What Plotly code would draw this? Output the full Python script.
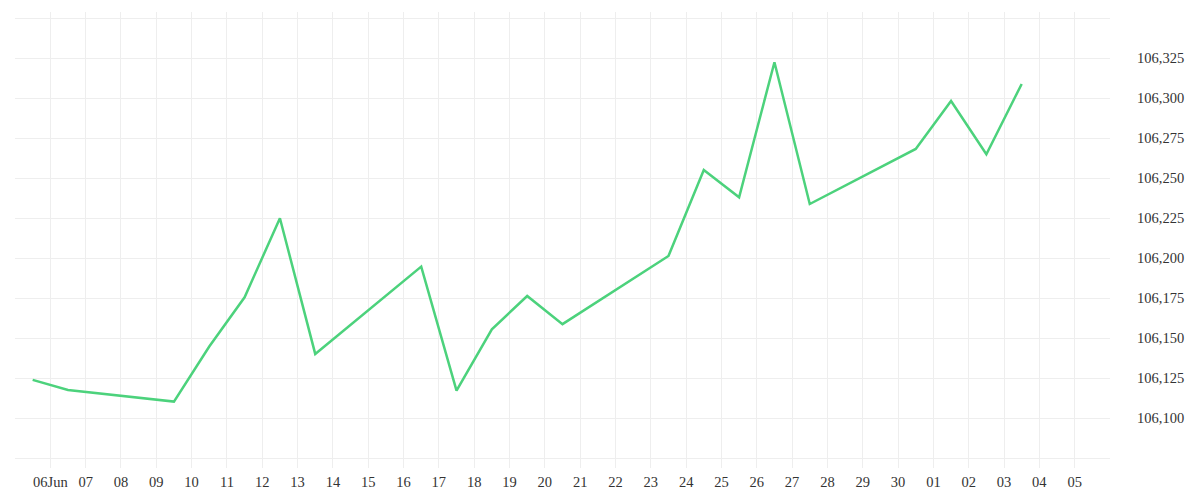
import pandas as pd
import plotly.graph_objects as go

# trading days (weekends missing) and closing values
dates = ["2025-06-05", "2025-06-06", "2025-06-09", "2025-06-10", "2025-06-11",
         "2025-06-12", "2025-06-13", "2025-06-16", "2025-06-17", "2025-06-18",
         "2025-06-19", "2025-06-20", "2025-06-23", "2025-06-24", "2025-06-25",
         "2025-06-26", "2025-06-27", "2025-06-30", "2025-07-01", "2025-07-02",
         "2025-07-03"]
values = [106124.0, 106117.7, 106110.4, 106144.8, 106175.6,
          106225.0, 106140.2, 106194.8, 106117.3, 106155.6,
          106176.4, 106158.8, 106201.4, 106255.2, 106238.1,
          106322.5, 106233.9, 106268.3, 106298.3, 106265.0,
          106308.9]

y_ticks = [106075, 106100, 106125, 106150, 106175, 106200, 106225,
           106250, 106275, 106300, 106325, 106350]

# points sit in the middle of each day
x = pd.to_datetime(dates) + pd.Timedelta(hours=12)

days = pd.date_range("2025-06-05", "2025-07-06", freq="D")
day_text = []
for i, d in enumerate(days):
    if i == 0 or i == len(days) - 1:
        day_text.append("")
    elif i == 1:
        day_text.append(d.strftime("%d%b"))
    else:
        day_text.append(d.strftime("%d"))

y_text = ["" if v in (y_ticks[0], y_ticks[-1]) else f"{v:,}" for v in y_ticks]

fig = go.Figure()
fig.add_trace(go.Scatter(
    x=x,
    y=values,
    mode="lines",
    line=dict(color="#4cd27c", width=2.5),
    hoverinfo="skip",
))

fig.update_layout(
    width=1200,
    height=500,
    margin=dict(l=15, r=90, t=12, b=32),
    paper_bgcolor="white",
    plot_bgcolor="white",
    showlegend=False,
    font=dict(family="Liberation Serif", size=14.5, color="#333333"),
)

fig.update_xaxes(
    range=[days[0], days[-1]],
    tickvals=days,
    ticktext=day_text,
    showgrid=True,
    gridcolor="#eeeeee",
    gridwidth=1,
    zeroline=False,
    showline=False,
    ticks="",
    ticklabelstandoff=3,
    automargin=False,
)

fig.update_yaxes(
    side="right",
    range=[106068.9, 106353.9],
    tickvals=y_ticks,
    ticktext=y_text,
    showgrid=True,
    gridcolor="#eeeeee",
    gridwidth=1,
    zeroline=False,
    showline=False,
    ticks="",
    ticklabelstandoff=26,
    automargin=False,
)

# drop the page's default body margin so the chart sits at the window corner
fig.write_html("out.html", config={"displayModeBar": False},
               post_script="document.body.style.margin='0';")
